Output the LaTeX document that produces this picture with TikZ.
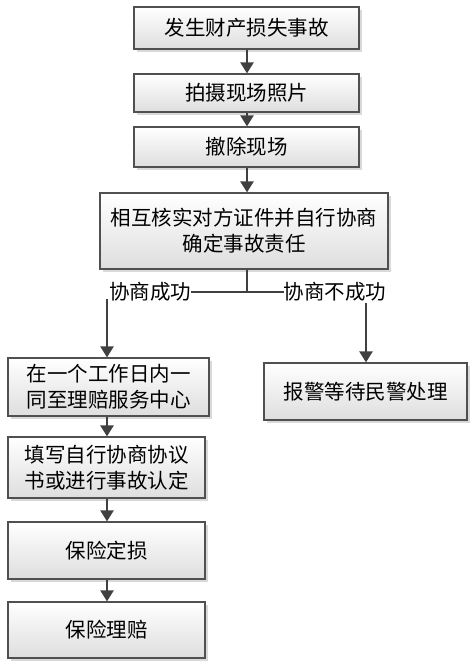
\documentclass[tikz,border=0pt]{standalone}
\usepackage{fontspec}
\setmainfont{Noto Sans CJK SC}
\usetikzlibrary{arrows.meta,shadows,positioning}
\definecolor{linegray}{HTML}{404040}
\definecolor{edgegray}{HTML}{505050}
\tikzset{
  boxstyle/.style={draw=edgegray, line width=1.2pt, top color=white, bottom color=black!13,
    inner sep=0pt, align=center, text=black,
    font=\fontsize{20.5pt}{26pt}\selectfont,
    drop shadow={shadow xshift=3pt, shadow yshift=-3pt, fill=black!15, opacity=1}},
  flow/.style={draw=linegray, line width=2.4pt, -{Triangle[width=13pt,length=11pt]}},
  plain/.style={draw=linegray, line width=2.4pt},
  thin/.style={draw=linegray, line width=1.6pt},
  lbl/.style={inner sep=0pt, font=\fontsize{20.5pt}{26pt}\selectfont, text=black}
}
\begin{document}
\begin{tikzpicture}[x=1pt,y=-1pt]
\useasboundingbox (0,0) rectangle (473,663);
\node[boxstyle, minimum width=225pt, minimum height=42pt] (b1) at (246.5,28) {发生财产损失事故};
\node[boxstyle, minimum width=225pt, minimum height=38pt] (b2) at (246.5,93) {拍摄现场照片};
\node[boxstyle, minimum width=225pt, minimum height=40pt] (b3) at (246.5,147) {撤除现场};
\node[boxstyle, minimum width=288pt, minimum height=76pt] (b4) at (244,231) {相互核实对方证件并自行协商\\确定事故责任};
\node[boxstyle, minimum width=201pt, minimum height=58pt] (b5) at (108.5,387) {在一个工作日内一\\同至理赔服务中心};
\node[boxstyle, minimum width=203pt, minimum height=57pt] (b6) at (365.5,391.5) {报警等待民警处理};
\node[boxstyle, minimum width=197pt, minimum height=61pt] (b7) at (106.5,467.5) {填写自行协商协议\\书或进行事故认定};
\node[boxstyle, minimum width=197pt, minimum height=57pt] (b8) at (106.5,550.5) {保险定损};
\node[boxstyle, minimum width=197pt, minimum height=56pt] (b9) at (106.5,630) {保险理赔};

\node[lbl] (ok) at (150,292) {协商成功};
\node[lbl] (nok) at (335,292) {协商不成功};
\coordinate (j) at (247,292);
\coordinate (ls) at (107,299);
\coordinate (rs) at (366,303);

\draw[flow] (b1.south -| 247,0) -- (b2.north -| 247,0);
\draw[flow] (b2.south -| 247,0) -- (b3.north -| 247,0);
\draw[flow] (b3.south -| 247,0) -- (b4.north -| 247,0);
\draw[plain] (b4.south -| j) -- (j);
\draw[thin] (ok.east) -- (j) -- (nok.west);
\draw[flow] (ls) -- (b5.north -| ls);
\draw[flow] (rs) -- (b6.north -| rs);
\draw[flow] (b5.south -| 107,0) -- (b7.north -| 107,0);
\draw[flow] (b7.south -| 107,0) -- (b8.north -| 107,0);
\draw[flow] (b8.south -| 107,0) -- (b9.north -| 107,0);
\end{tikzpicture}
\end{document}
